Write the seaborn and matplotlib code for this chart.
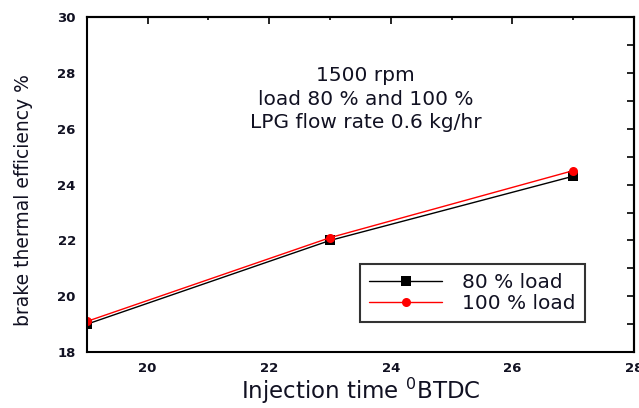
import matplotlib
matplotlib.use("Agg")
import matplotlib.pyplot as plt
import pandas as pd
import seaborn as sns
from matplotlib.ticker import MultipleLocator

# data
injection_time = [19, 23, 27]
bte_80 = [19.0, 22.0, 24.3]
bte_100 = [19.1, 22.1, 24.5]
series_names = ["80 % load", "100 % load"]

df = pd.DataFrame({
    "time": injection_time * 2,
    "bte": bte_80 + bte_100,
    "load": [series_names[0]] * 3 + [series_names[1]] * 3,
})

sns.set_style("white")
plt.rcParams["font.family"] = ["DejaVu Sans"]
plt.rcParams.update({"text.color": "#111122", "axes.labelcolor": "#111122",
                     "xtick.color": "black", "ytick.color": "black",
                     "xtick.labelcolor": "#111122", "ytick.labelcolor": "#111122"})

fig = plt.figure(figsize=(6.39, 4.08), dpi=100)
ax = fig.add_axes([0.136, 0.137, 0.856, 0.821])

sns.lineplot(data=df, x="time", y="bte", hue="load", style="load",
             palette={series_names[0]: "black", series_names[1]: "red"},
             markers={series_names[0]: "s", series_names[1]: "o"},
             dashes=False, markersize=6.5, markeredgewidth=0, linewidth=1,
             ax=ax)

ax.set_xlim(19, 28)
ax.set_ylim(18, 30)
ax.xaxis.set_major_locator(MultipleLocator(2))
ax.xaxis.set_minor_locator(MultipleLocator(1))
ax.yaxis.set_major_locator(MultipleLocator(2))
ax.yaxis.set_minor_locator(MultipleLocator(1))
ax.tick_params(axis="both", which="both", width=1.2, top=False, right=False,
               labelsize=9.5)
ax.tick_params(axis="x", which="major", direction="in", length=5, pad=7)
ax.tick_params(axis="x", which="minor", direction="out", length=4)
ax.tick_params(axis="y", which="major", direction="out", length=5, pad=3)
ax.tick_params(axis="y", which="minor", direction="out", length=3)

# top and right ticks point inward, no labels
top = ax.secondary_xaxis("top")
top.xaxis.set_major_locator(MultipleLocator(2))
top.xaxis.set_minor_locator(MultipleLocator(1))
top.tick_params(which="major", direction="in", length=5, width=1.2, labeltop=False)
top.tick_params(which="minor", direction="in", length=2, width=1.2)
right = ax.secondary_yaxis("right")
right.yaxis.set_major_locator(MultipleLocator(1))
right.tick_params(direction="in", length=5, width=1.2, labelright=False)
for sa, side in ((top, "top"), (right, "right")):
    sa.spines[side].set_linewidth(1.5)

for lab in ax.get_xticklabels() + ax.get_yticklabels():
    lab.set_fontweight("bold")
for s in ax.spines.values():
    s.set_linewidth(1.5)
    s.set_color("black")

ax.set_xlabel("Injection time $^{0}$BTDC", fontsize=16.5, labelpad=1)
ax.set_ylabel("brake thermal efficiency %", fontsize=13.5)
ax.yaxis.set_label_coords(-0.098, 0.455)

ax.text(0.51, 0.755, "1500 rpm\nload 80 % and 100 %\nLPG flow rate 0.6 kg/hr",
        transform=ax.transAxes, ha="center", va="center",
        fontsize=14.5, linespacing=1.3)

leg = ax.legend(loc="lower right", bbox_to_anchor=(0.91, 0.09), fontsize=14.5,
                frameon=True, fancybox=False, edgecolor="black",
                handlelength=3.6, borderpad=0.45, labelspacing=0.1,
                handletextpad=1.0, borderaxespad=0)
leg.get_frame().set_linewidth(1.5)

fig.savefig("out.png", dpi=100)
